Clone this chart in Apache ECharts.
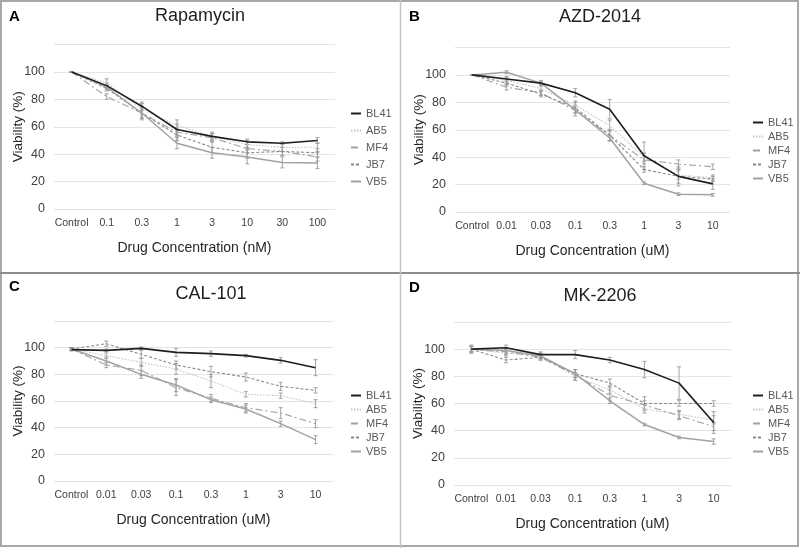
<!DOCTYPE html>
<html>
<head>
<meta charset="utf-8">
<script src="https://cdn.jsdelivr.net/npm/echarts@6/dist/echarts.min.js"></script>
<style>html,body{margin:0;padding:0;background:#fff}#c{width:800px;height:548px}</style>
</head>
<body>
<div id="c"></div>
<script>
// ---- data ----
const catsNM = ['Control','0.1','0.3','1','3','10','30','100'];
const catsUM = ['Control','0.01','0.03','0.1','0.3','1','3','10'];
const seriesNames = ['BL41','AB5','MF4','JB7','VB5'];
const yTickMin = 0, yTickMax = 120, yTickStep = 20;

// Rapamycin (A)
const rapaBL41 = [100, 90, 75, 58, 53, 49, 48, 50];
const rapaAB5  = [100, 92, 73, 61, 53, 47, 45, 45];
const rapaMF4  = [100, 82, 70, 56, 52, 44, 42, 38];
const rapaJB7  = [100, 88, 70, 54, 45, 41, 42, 41];
const rapaVB5  = [100, 89, 70, 48, 41, 38, 34, 33.5];
const rapaErrBL41 = [0, 2, 3, 4, 2, 2, 1, 2];
const rapaErrAB5  = [0, 3, 4, 4, 3, 3, 3, 3];
const rapaErrMF4  = [0, 2, 3, 3, 3, 3, 3, 3];
const rapaErrJB7  = [0, 2, 5, 4, 4, 4, 3, 3];
const rapaErrVB5  = [0, 2, 4, 4, 4, 5, 4, 4];

// AZD-2014 (B)
const azdBL41 = [100, 97, 94, 87, 75, 41, 26, 20.5];
const azdAB5  = [100, 96, 90, 78, 63, 40, 27, 25];
const azdMF4  = [100, 91, 87, 74, 56, 38, 35, 33];
const azdJB7  = [100, 94, 86, 76, 56, 31, 26, 24];
const azdVB5  = [100, 102, 94, 74.5, 54, 21, 13, 12.5];
const azdErrBL41 = [0, 2, 2, 3, 7, 10, 7, 4];
const azdErrAB5  = [0, 2, 2, 3, 4, 3, 3, 2];
const azdErrMF4  = [0, 2, 2, 4, 4, 3, 3, 2];
const azdErrJB7  = [0, 2, 2, 4, 4, 2, 5, 2];
const azdErrVB5  = [0, 1, 1, 2, 2, 1, 1, 1];

// CAL-101 (C)
const calBL41 = [98.5, 98, 99.5, 96.5, 95.5, 94, 90.5, 85];
const calAB5  = [99, 94, 89, 84, 75, 65, 64, 58];
const calMF4  = [99, 87, 83, 70, 62, 55, 51, 43];
const calJB7  = [99, 103, 95, 87, 82, 78, 71, 68];
const calVB5  = [99, 90, 80, 72, 61, 54, 43, 31];
const calErrBL41 = [1, 1, 1, 3, 2, 1, 2, 6];
const calErrAB5  = [1, 2, 3, 4, 5, 2, 2, 3];
const calErrMF4  = [1, 2, 4, 6, 3, 3, 4, 3];
const calErrJB7  = [1, 2, 3, 3, 4, 3, 3, 2];
const calErrVB5  = [1, 3, 3, 5, 2, 3, 2, 3];

// MK-2206 (D)
const mkBL41 = [100, 101, 96, 96, 92, 85, 75, 46];
const mkAB5  = [100, 97, 95, 80, 70, 56, 52, 48];
const mkMF4  = [100, 98, 94, 81, 66, 59, 51, 43];
const mkJB7  = [100, 92, 94, 82, 75, 60, 60, 60];
const mkVB5  = [100, 99, 95, 82, 62, 44.5, 35, 32];
const mkErrBL41 = [3, 2, 2, 3, 2, 6, 12, 8];
const mkErrAB5  = [2, 2, 2, 3, 3, 3, 3, 3];
const mkErrMF4  = [2, 2, 2, 4, 4, 3, 3, 3];
const mkErrJB7  = [2, 2, 2, 3, 3, 5, 2, 2];
const mkErrVB5  = [2, 2, 2, 3, 2, 1, 1, 2];

// ---- styling / layout ----
const FONT = '"Liberation Sans", Arial, sans-serif';
const seriesStyles = {
  BL41: {color: '#1e1e1e', width: 1.6, type: 'solid'},
  AB5:  {color: '#c4c4c4', width: 1.1, type: [1.5, 1.5]},
  MF4:  {color: '#a0a0a0', width: 1.1, type: [7, 3, 2, 3]},
  JB7:  {color: '#8a8a8a', width: 1.1, type: [3, 2]},
  VB5:  {color: '#a2a2a2', width: 1.5, type: 'solid'}
};

const panels = [
  {letter: 'A', title: 'Rapamycin', cats: catsNM, xname: 'Drug Concentration (nM)',
   vals: [rapaBL41, rapaAB5, rapaMF4, rapaJB7, rapaVB5],
   errs: [rapaErrBL41, rapaErrAB5, rapaErrMF4, rapaErrJB7, rapaErrVB5],
   grid: {left: 54, top: 44.5, width: 281, height: 164.5},
   letterPos: [9, 17], titlePos: [200, 16], legend: {left: 350, top: 108, gap: 6}},
  {letter: 'B', title: 'AZD-2014', cats: catsUM, xname: 'Drug Concentration (uM)',
   vals: [azdBL41, azdAB5, azdMF4, azdJB7, azdVB5],
   errs: [azdErrBL41, azdErrAB5, azdErrMF4, azdErrJB7, azdErrVB5],
   grid: {left: 455, top: 47.5, width: 275, height: 164.5},
   letterPos: [409, 17], titlePos: [600, 17], legend: {left: 752, top: 117, gap: 3}},
  {letter: 'C', title: 'CAL-101', cats: catsUM, xname: 'Drug Concentration (uM)',
   vals: [calBL41, calAB5, calMF4, calJB7, calVB5],
   errs: [calErrBL41, calErrAB5, calErrMF4, calErrJB7, calErrVB5],
   grid: {left: 54, top: 321, width: 279, height: 160},
   letterPos: [9, 287], titlePos: [211, 294], legend: {left: 350, top: 390, gap: 3}},
  {letter: 'D', title: 'MK-2206', cats: catsUM, xname: 'Drug Concentration (uM)',
   vals: [mkBL41, mkAB5, mkMF4, mkJB7, mkVB5],
   errs: [mkErrBL41, mkErrAB5, mkErrMF4, mkErrJB7, mkErrVB5],
   grid: {left: 454, top: 322, width: 277, height: 163},
   letterPos: [409, 288], titlePos: [600, 296], legend: {left: 752, top: 390, gap: 3}}
];

const grids = [], xAxes = [], yAxes = [], series = [], legends = [], graphics = [];

// frame lines
graphics.push({type: 'rect', shape: {x: 1, y: 1, width: 797, height: 545}, style: {fill: 'none', stroke: '#a8a8a8', lineWidth: 2}, silent: true});
graphics.push({type: 'line', shape: {x1: 0, y1: 273, x2: 800, y2: 273}, style: {stroke: '#8c8c8c', lineWidth: 2}, silent: true});
graphics.push({type: 'line', shape: {x1: 400.5, y1: 0, x2: 400.5, y2: 548}, style: {stroke: '#c4c4c4', lineWidth: 1.5}, silent: true});

panels.forEach((p, i) => {
  grids.push(Object.assign({}, p.grid));
  xAxes.push({
    type: 'category', gridIndex: i, data: p.cats, boundaryGap: true,
    axisLine: {show: false}, axisTick: {show: false},
    axisLabel: {color: '#404040', fontSize: 10.5, fontFamily: FONT, margin: 9, interval: 0},
    name: p.xname, nameLocation: 'middle', nameGap: 32, nameMoveOverlap: false,
    nameTextStyle: {color: '#262626', fontSize: 14, fontFamily: FONT}
  });
  yAxes.push({
    type: 'value', gridIndex: i, min: yTickMin, max: yTickMax, interval: yTickStep,
    axisLine: {show: false}, axisTick: {show: false},
    splitLine: {lineStyle: {color: '#e4e4e4', width: 1}},
    axisLabel: {color: '#404040', fontSize: 12.5, fontFamily: FONT, margin: 9, showMaxLabel: false},
    name: 'Viability (%)', nameLocation: 'middle', nameGap: 29, nameMoveOverlap: false,
    nameTextStyle: {color: '#262626', fontSize: 13.5, fontFamily: FONT}
  });
  seriesNames.forEach((nm, k) => {
    const st = seriesStyles[nm];
    // error bars
    series.push({
      type: 'custom', xAxisIndex: i, yAxisIndex: i, silent: true, z: 2,
      data: p.vals[k].map((v, j) => [j, v - p.errs[k][j], v + p.errs[k][j]]),
      renderItem: function (params, api) {
        const lo = api.coord([api.value(0), api.value(1)]);
        const hi = api.coord([api.value(0), api.value(2)]);
        const w = 2;
        const s = {stroke: '#9a9a9a', lineWidth: 0.9};
        return {type: 'group', children: [
          {type: 'line', shape: {x1: lo[0], y1: lo[1], x2: hi[0], y2: hi[1]}, style: s},
          {type: 'line', shape: {x1: lo[0] - w, y1: lo[1], x2: lo[0] + w, y2: lo[1]}, style: s},
          {type: 'line', shape: {x1: hi[0] - w, y1: hi[1], x2: hi[0] + w, y2: hi[1]}, style: s}
        ]};
      }
    });
    series.push({
      type: 'line', name: nm, xAxisIndex: i, yAxisIndex: i, data: p.vals[k],
      symbol: 'none', z: 3 + (nm === 'BL41' ? 2 : 0),
      lineStyle: {color: st.color, width: st.width, type: st.type},
      itemStyle: {color: st.color}
    });
  });
  legends.push({
    data: seriesNames, orient: 'vertical', left: p.legend.left, top: p.legend.top,
    padding: 0,
    itemWidth: 10, itemHeight: 10, itemGap: p.legend.gap, selectedMode: false,
    itemStyle: {opacity: 0},
    textStyle: {color: '#595959', fontSize: 11, fontFamily: FONT}
  });
  graphics.push({type: 'text', x: p.letterPos[0], y: p.letterPos[1],
    style: {text: p.letter, font: 'bold 15px ' + FONT, fill: '#000', verticalAlign: 'middle'}});
  graphics.push({type: 'text', x: p.titlePos[0], y: p.titlePos[1],
    style: {text: p.title, font: '18px ' + FONT, fill: '#1e1e1e', align: 'center', verticalAlign: 'middle'}});
});

const chart = echarts.init(document.getElementById('c'), null, {renderer: 'canvas'});
chart.setOption({
  animation: false,
  backgroundColor: '#fff',
  grid: grids, xAxis: xAxes, yAxis: yAxes, series: series, legend: legends,
  graphic: graphics
});
</script>
</body>
</html>
